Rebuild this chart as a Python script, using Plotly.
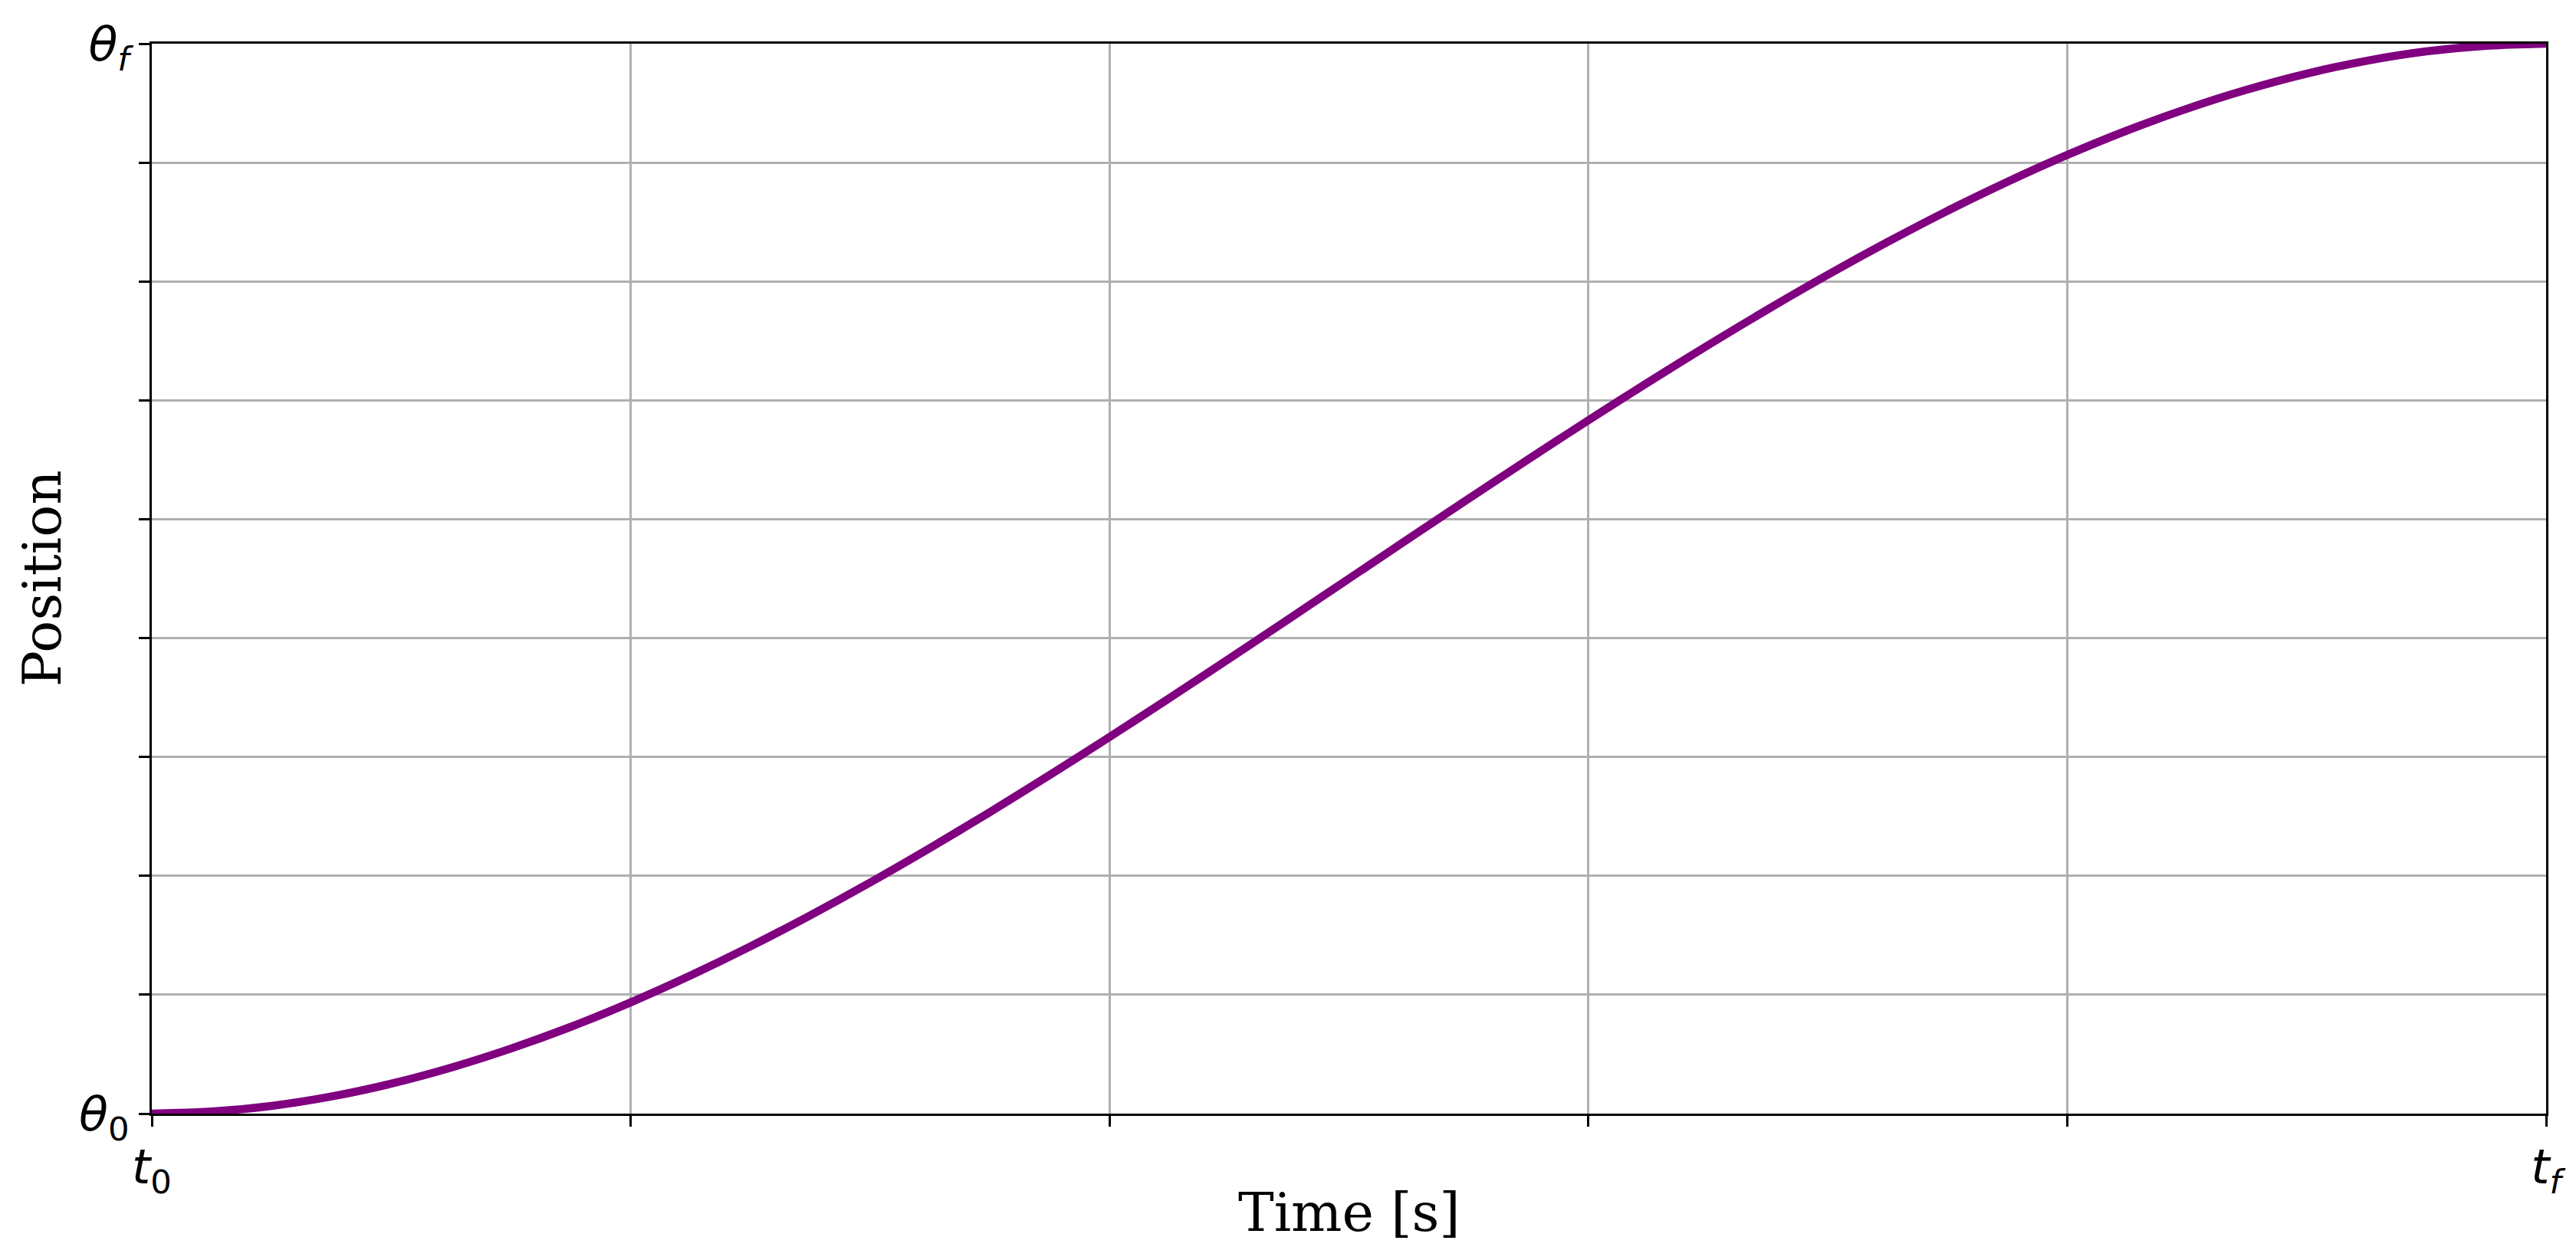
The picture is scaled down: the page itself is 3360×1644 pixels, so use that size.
import plotly.graph_objects as go

# Time samples (s) and position values (0 = θ0, 90 = θf)
time_s = [0.0, 0.125, 0.25, 0.375, 0.5, 0.625, 0.75, 0.875, 1.0, 1.125,
          1.25, 1.375, 1.5, 1.625, 1.75, 1.875, 2.0, 2.125, 2.25, 2.375,
          2.5, 2.625, 2.75, 2.875, 3.0, 3.125, 3.25, 3.375, 3.5, 3.625,
          3.75, 3.875, 4.0, 4.125, 4.25, 4.375, 4.5, 4.625, 4.75, 4.875, 5.0]
position = [0.0, 0.17, 0.65, 1.44, 2.52, 3.87, 5.47, 7.3, 9.36, 11.62,
            14.06, 16.68, 19.44, 22.34, 25.36, 28.48, 31.68, 34.95, 38.27, 41.63,
            45.0, 48.37, 51.73, 55.05, 58.32, 61.52, 64.64, 67.66, 70.56, 73.32,
            75.94, 78.38, 80.64, 82.7, 84.53, 86.13, 87.48, 88.56, 89.35, 89.83, 90.0]

x_tick_vals = [0, 1, 2, 3, 4, 5]
x_tick_text = ["<i>t</i><sub>0</sub>", "", "", "", "", "<i>t<sub>f</sub></i>"]
y_tick_vals = [0, 10, 20, 30, 40, 50, 60, 70, 80, 90]
y_tick_text = ["<i>θ</i><sub>0</sub>", "", "", "", "", "", "", "", "", "<i>θ<sub>f</sub></i>"]

x_title = "Time [s]"
y_title = "Position"

fig = go.Figure()
fig.add_trace(go.Scatter(
    x=time_s, y=position, mode="lines",
    line=dict(color="#800080", width=10.5, shape="spline", smoothing=0.8),
    showlegend=False, cliponaxis=True,
))

axis_common = dict(
    showgrid=True, gridcolor="#b0b0b0", gridwidth=2.6,
    showline=True, linecolor="black", linewidth=3, mirror=True,
    ticks="outside", ticklen=14, tickwidth=3, tickcolor="black",
    zeroline=False,
    tickfont=dict(family="DejaVu Sans", size=62, color="black"),
)

fig.update_xaxes(range=[0, 5], tickmode="array", tickvals=x_tick_vals,
                 ticktext=x_tick_text, **axis_common)
fig.update_yaxes(range=[0, 90], tickmode="array", tickvals=y_tick_vals,
                 ticktext=y_tick_text, **axis_common)

fig.update_layout(
    width=3344, height=1628,
    margin=dict(l=190, r=31, t=49, b=183, autoexpand=False),
    paper_bgcolor="white", plot_bgcolor="white",
    annotations=[
        dict(text=x_title, x=0.5, y=0, xref="paper", yref="paper",
             xanchor="center", yanchor="middle", yshift=-129, showarrow=False,
             font=dict(family="DejaVu Serif", size=70, color="black")),
        dict(text=y_title, x=0, y=0.5, xref="paper", yref="paper",
             xanchor="center", yanchor="middle", xshift=-143, textangle=-90,
             showarrow=False,
             font=dict(family="DejaVu Serif", size=70, color="black")),
    ],
)

fig.write_html("out.html")
